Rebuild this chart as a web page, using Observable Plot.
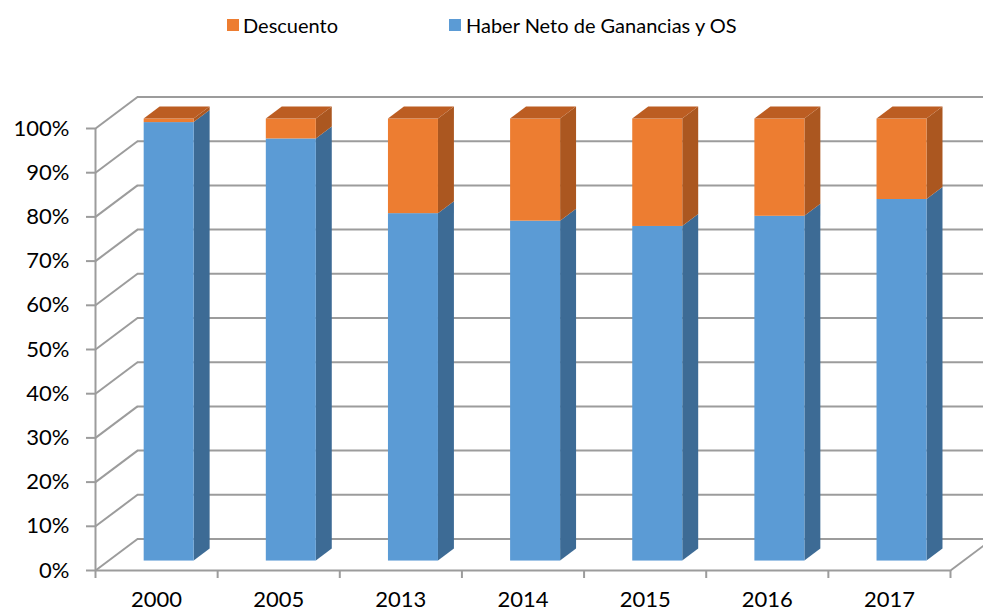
<!DOCTYPE html>
<html>
<head>
<meta charset="utf-8">
<script src="https://cdn.jsdelivr.net/npm/d3@7"></script>
<script src="https://cdn.jsdelivr.net/npm/@observablehq/plot@0.6"></script>
<style>
  html, body { margin: 0; padding: 0; background: #fff; overflow: hidden; }
  #legend { position: relative; width: 983px; height: 60px; font-family: Lato, sans-serif; font-size: 20px; color: #000; }
  .sw { position: absolute; top: 19px; width: 12px; height: 12px; }
  .lt { position: absolute; top: 12px; line-height: 26px; white-space: nowrap; }
  #chart svg { display: block; overflow: hidden; }
</style>
</head>
<body>
<div id="legend"></div>
<div id="chart"></div>
<script>
// ---- data ----
const years = ["2000", "2005", "2013", "2014", "2015", "2016", "2017"];
const haberNeto = [99.2, 95.5, 78.6, 76.9, 75.7, 78.0, 81.8];
const descuento = [0.8, 4.5, 21.4, 23.1, 24.3, 22.0, 18.2];
const yTicks = [0, 10, 20, 30, 40, 50, 60, 70, 80, 90, 100];
const seriesNames = ["Descuento", "Haber Neto de Ganancias y OS"];

// ---- style ----
const colors = {
  haber: {front: "#5B9BD5", side: "#3D6B95", top: "#4A80B0"},
  desc:  {front: "#ED7D31", side: "#AB5720", top: "#BC5D22"}
};
const grid = "#9c9c9c";

// ---- layout ----
const W = 983, H = 553;
const mL = 95, mR = 33, mT = 68, mB = 43;
const pxX = (W - mL - mR) / years.length;   // px per x unit
const pxY = (H - mT - mB) / 100;            // px per %
// oblique depth of the 3D box, expressed in data units
const Dx = 42 / pxX, Dy = 31.5 / pxY;
const z0 = 0.30, z1 = 0.68;                 // bar depth range
const hw = 25 / pxX;                        // bar half width

// ---- legend (HTML) ----
const legend = document.getElementById("legend");
[[227, 243, colors.desc.front, seriesNames[0]], [449, 466, colors.haber.front, seriesNames[1]]].forEach(([sx, tx, c, t]) => {
  const s = document.createElement("div"); s.className = "sw"; s.style.left = sx + "px"; s.style.background = c; legend.appendChild(s);
  const l = document.createElement("div"); l.className = "lt"; l.style.left = tx + "px"; l.textContent = t; legend.appendChild(l);
});

// ---- build faces ----
const segs = [];
years.forEach((yr, i) => {
  segs.push({i, key: "h" + i, s: "haber", b: 0, t: haberNeto[i], top: false});
  segs.push({i, key: "d" + i, s: "desc", b: haberNeto[i], t: haberNeto[i] + descuento[i], top: true});
});
const fronts = segs.map(d => {
  const c = d.i + 0.5;
  return {...d, x1: c - hw + z0 * Dx, x2: c + hw + z0 * Dx, y1: d.b + z0 * Dy, y2: d.t + z0 * Dy};
});
const sides = segs.flatMap(d => {
  const c = d.i + 0.5;
  return [z0, z1].map(z => ({...d, x: c + hw + z * Dx, y1: d.b + z * Dy, y2: d.t + z * Dy}));
});
const tops = segs.filter(d => d.top).flatMap(d => {
  const c = d.i + 0.5;
  return [z0, z1].map(z => ({...d, y: d.t + z * Dy, x1: c - hw + z * Dx, x2: c + hw + z * Dx}));
});

const marks = [];
// back wall horizontal gridlines
marks.push(Plot.ruleY(yTicks, {y: d => d + Dy, x1: Dx, x2: years.length + Dx, stroke: grid, strokeWidth: 2}));
// left wall diagonals
marks.push(Plot.link(yTicks, {x1: 0, y1: d => d, x2: Dx, y2: d => d + Dy, stroke: grid, strokeWidth: 2}));
// floor front edge and right diagonal
marks.push(Plot.ruleY([0], {x1: 0, x2: years.length, stroke: grid, strokeWidth: 2}));
marks.push(Plot.link([0], {x1: years.length, y1: 0, x2: years.length + Dx, y2: Dy, stroke: grid, strokeWidth: 2}));
// front vertical axis line
marks.push(Plot.ruleX([0], {y1: 0, y2: 100, stroke: grid, strokeWidth: 2}));

// bars
for (const s of ["haber", "desc"]) {
  marks.push(Plot.areaY(sides.filter(d => d.s === s), {x: "x", y1: "y1", y2: "y2", z: "key", fill: colors[s].side}));
  marks.push(Plot.rect(fronts.filter(d => d.s === s), {x1: "x1", x2: "x2", y1: "y1", y2: "y2", fill: colors[s].front}));
}
marks.push(Plot.areaX(tops, {y: "y", x1: "x1", x2: "x2", z: "key", fill: colors.desc.top}));

// axes
marks.push(Plot.axisY(yTicks, {tickSize: 9, tickPadding: 17, tickFormat: d => d + "%", stroke: grid, strokeWidth: 2, fill: "#000", label: null}));
marks.push(Plot.axisX(d3.range(0, years.length + 1), {tickSize: 8, tickFormat: () => "", stroke: grid, strokeWidth: 2, label: null}));
marks.push(Plot.axisX(years.map((y, i) => i + 0.5), {tickSize: 0, tickPadding: 21, tickFormat: d => years[Math.floor(d)], fill: "#000", label: null}));

const chart = Plot.plot({
  width: W, height: H,
  marginLeft: mL, marginRight: mR, marginTop: mT, marginBottom: mB,
  x: {type: "linear", domain: [0, years.length]},
  y: {type: "linear", domain: [0, 100]},
  style: {fontFamily: "Lato, sans-serif", fontSize: "22px", background: "#fff", color: "#000"},
  marks
});
document.getElementById("chart").appendChild(chart);
</script>
</body>
</html>
